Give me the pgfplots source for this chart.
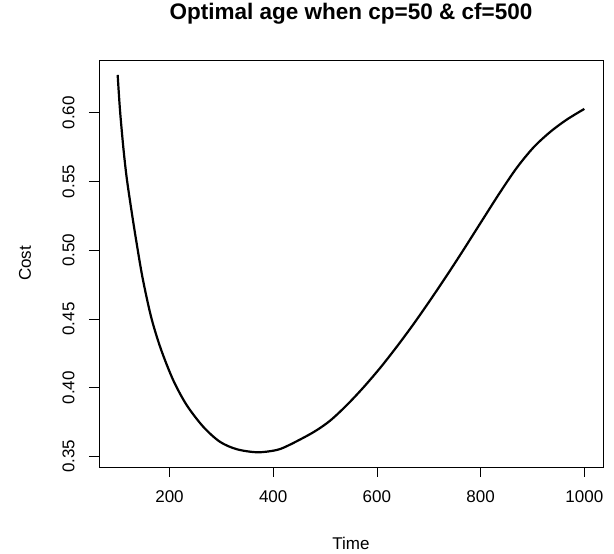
\documentclass[border=0pt]{standalone}
\usepackage{fontspec}
\setmainfont{Liberation Sans}
\usepackage{pgfplots}
\pgfplotsset{compat=1.18}
\begin{document}
\begin{tikzpicture}[x=1pt,y=1pt]
\useasboundingbox (0,0) rectangle (614,554);
\begin{axis}[
  at={(99pt,87pt)}, anchor=south west,
  scale only axis,
  width=504pt, height=407pt,
  xmin=64, xmax=1036,
  ymin=0.3423, ymax=0.6385,
  xtick={200,400,...,1000},
  ytick={0.35,0.40,0.45,0.50,0.55,0.60},
  yticklabel style={xshift=-11pt, rotate=90, anchor=south,
    /pgf/number format/fixed, /pgf/number format/fixed zerofill,
    /pgf/number format/precision=2},
  xticklabel style={yshift=-10pt, /pgf/number format/1000 sep={}},
  /pgf/number format/assume math mode=true,
  tick align=outside, xtick pos=bottom, ytick pos=left,
  major tick length=10pt,
  tick style={black, line width=0.8pt},
  axis line style={black, line width=0.8pt},
  ticklabel style={font=\fontsize{17}{20}\selectfont},
  title={Optimal age when cp=50 \& cf=500},
  title style={at={(axis description cs:0.5,1)}, anchor=center, yshift=40.5pt,
    font=\bfseries\fontsize{22.5}{26}\selectfont},
  xlabel={Time},
  xlabel style={at={([yshift=-76pt]axis description cs:0.5,0)}, anchor=center,
    font=\fontsize{17}{20}\selectfont},
  ylabel={Cost},
  ylabel style={at={([xshift=-74pt]axis description cs:0,0.5)}, anchor=center,
    font=\fontsize{17}{20}\selectfont},
]
% cost curve
\addplot[black, line width=2.2pt, smooth, tension=0.5] coordinates {
  (100,0.6276) (104.5,0.602) (111,0.5745) (117.5,0.5525) (127,0.5280)
  (136,0.5065) (148,0.4800) (164.5,0.4515) (183,0.4285) (207,0.4056)
  (233,0.3874) (265,0.3716) (297,0.3607) (330,0.3552) (370,0.3530)
  (407,0.3547) (432,0.3585) (477,0.3675) (509,0.3758) (541,0.3870)
  (573,0.3998) (606,0.4143) (638,0.4297) (670,0.4460) (702,0.4633)
  (735,0.4818) (766,0.4998) (805,0.5230) (838,0.5425) (870,0.5602)
  (902,0.5749) (934,0.5861) (966,0.5951) (1000,0.6029)
};
\end{axis}
\end{tikzpicture}
\end{document}
